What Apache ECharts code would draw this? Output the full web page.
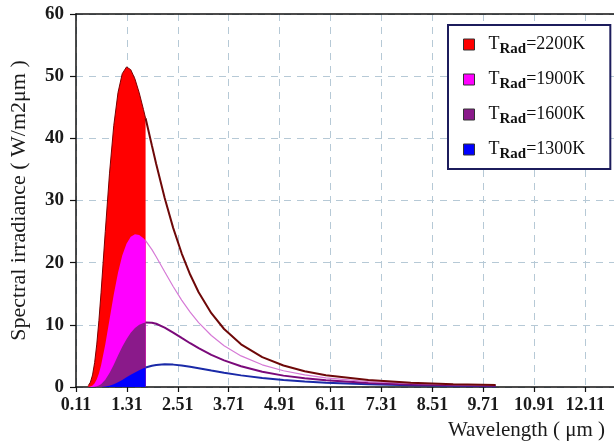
<!DOCTYPE html>
<html><head><meta charset="utf-8">
<script src="https://cdn.jsdelivr.net/npm/echarts@6/dist/echarts.min.js"></script>
<style>html,body{margin:0;padding:0;background:#fff}#c{width:614px;height:447px}</style>
</head><body><div id="c"></div>
<script>
// Wavelength samples (μm)
const wavelength = [0.40,0.45,0.50,0.55,0.60,0.65,0.70,0.80,0.90,1.00,1.10,1.20,1.30,1.40,1.50,1.60,1.70,1.75,1.90,2.00,2.20,2.40,2.60,2.80,3.00,3.30,3.60,4.00,4.50,5.00,5.50,6.00,7.00,8.00,9.00,10.00];
// Spectral irradiance (W/m2μm)
const irr2200 = [0.23,0.77,1.94,3.96,6.90,10.69,15.15,24.99,34.40,42.04,47.36,50.40,51.48,51.05,49.54,47.31,44.64,43.22,38.80,35.88,30.41,25.60,21.51,18.09,15.24,11.87,9.33,6.87,4.81,3.45,2.53,1.89,1.12,0.70,0.46,0.31];
const irr1900 = [0.02,0.08,0.25,0.60,1.23,2.17,3.44,6.83,10.85,14.87,18.39,21.14,23.05,24.16,24.58,24.47,23.94,23.56,22.10,20.95,18.53,16.16,13.98,12.04,10.36,8.28,6.64,5.00,3.57,2.61,1.94,1.47,0.88,0.56,0.37,0.26];
const irr1600 = [0.00,0.00,0.01,0.05,0.11,0.24,0.45,1.16,2.24,3.59,5.05,6.46,7.70,8.72,9.49,10.00,10.30,10.37,10.34,10.17,9.55,8.75,7.89,7.04,6.24,5.17,4.28,3.33,2.45,1.83,1.39,1.07,0.66,0.42,0.28,0.20];
const irr1300 = [0.00,0.00,0.00,0.00,0.00,0.01,0.02,0.09,0.22,0.45,0.76,1.13,1.55,1.96,2.35,2.70,3.00,3.13,3.42,3.54,3.65,3.60,3.46,3.25,3.02,2.65,2.29,1.87,1.45,1.12,0.88,0.69,0.44,0.29,0.20,0.14];
const temperatures = ['2200K','1900K','1600K','1300K'];
const cutoff = 1.75;          // end of the filled band (μm)
const xTickStart = 0.11, xTickStep = 1.2, xEnd = 12.79;
const yMin = 0, yMax = 60, yStep = 10;

const values = [irr2200, irr1900, irr1600, irr1300];
const fillColors = ['#ff0000','#ff00ff','#8a1a8a','#0000ff'];
const lineColors = ['#6e0808','#d67ad6','#7a0a7a','#1a2aa8'];
const lineWidths = [2, 1.2, 2, 2];
const serif = '"Liberation Serif","DejaVu Serif",serif';

const series = [];
temperatures.forEach((t, i) => {
  const pts = wavelength.map((w, j) => [w, values[i][j]]);
  series.push({
    name: t, type: 'line', symbol: 'none', smooth: false,
    data: pts.filter(p => p[0] <= cutoff),
    itemStyle: {color: fillColors[i]},
    lineStyle: i === 0 ? {color: '#7a0000', width: 1} : {width: 0, opacity: 0},
    areaStyle: {color: fillColors[i], opacity: 1},
    z: 2 + i
  });
});
temperatures.forEach((t, i) => {
  const pts = wavelength.map((w, j) => [w, values[i][j]]);
  series.push({
    name: t + ' tail', type: 'line', symbol: 'none', smooth: false,
    data: pts.filter(p => p[0] >= cutoff),
    itemStyle: {color: lineColors[i]},
    lineStyle: {color: lineColors[i], width: lineWidths[i]},
    z: 10 - i
  });
});

const chart = echarts.init(document.getElementById('c'));
chart.setOption({
  animation: false,
  backgroundColor: '#fff',
  grid: {left: 73, right: 0, top: 14, bottom: 60, containLabel: false},
  xAxis: [{
    type: 'value', min: xTickStart, max: xEnd, interval: xTickStep,
    axisLine: {show: true, lineStyle: {color: '#111', width: 1.5}},
    axisTick: {show: true, length: 5, lineStyle: {color: '#111', width: 1.2}},
    axisLabel: {showMaxLabel: false, margin: 9, fontFamily: serif, fontSize: 18, fontWeight: 'bold', color: '#1a1a1a'},
    splitLine: {show: true, lineStyle: {type: [7, 6], color: '#b6c9d6', width: 1}},
    name: 'Wavelength ( μm )', nameLocation: 'end', nameGap: -9,
    nameTextStyle: {fontFamily: serif, fontSize: 21, color: '#1a1a1a', align: 'right', verticalAlign: 'top', padding: [33, 0, 0, 0]}
  }, {
    type: 'value', position: 'top', min: xTickStart, max: xEnd, interval: xTickStep,
    axisLine: {show: true, onZero: false, lineStyle: {color: '#111', width: 1.5}},
    axisTick: {show: false}, axisLabel: {show: false}, splitLine: {show: false}
  }],
  yAxis: {
    type: 'value', min: yMin, max: yMax, interval: yStep,
    axisLine: {show: true, lineStyle: {color: '#111', width: 1.5}},
    axisTick: {show: true, length: 6, lineStyle: {color: '#111', width: 1.2}},
    axisLabel: {margin: 12, fontFamily: serif, fontSize: 19, fontWeight: 'bold', color: '#1a1a1a'},
    splitLine: {show: true, lineStyle: {type: [7, 6], color: '#b6c9d6', width: 1}},
    name: 'Spectral irradiance ( W/m2μm )', nameLocation: 'middle', nameGap: 46,
    nameTextStyle: {fontFamily: serif, fontSize: 22, color: '#1a1a1a'}
  },
  legend: {
    show: true, orient: 'vertical', left: 448, top: 25,
    data: temperatures, icon: 'rect', itemWidth: 11, itemHeight: 11, itemGap: 10,
    padding: [7, 25, 7, 15], backgroundColor: '#fff', borderColor: '#1c1c5c', borderWidth: 2,
    itemStyle: {borderColor: '#333', borderWidth: 1},
    formatter: n => '{t|T}{s|Rad}{t|=' + n + '}',
    textStyle: {
      padding: [0, 0, 0, 9],
      rich: {
        t: {fontFamily: serif, fontSize: 18, lineHeight: 20, color: '#111'},
        s: {fontFamily: serif, fontSize: 15, lineHeight: 16, padding: [10, 0, 0, 0], fontWeight: 'bold', color: '#111'}
      }
    }
  },
  series: series
});
</script></body></html>
